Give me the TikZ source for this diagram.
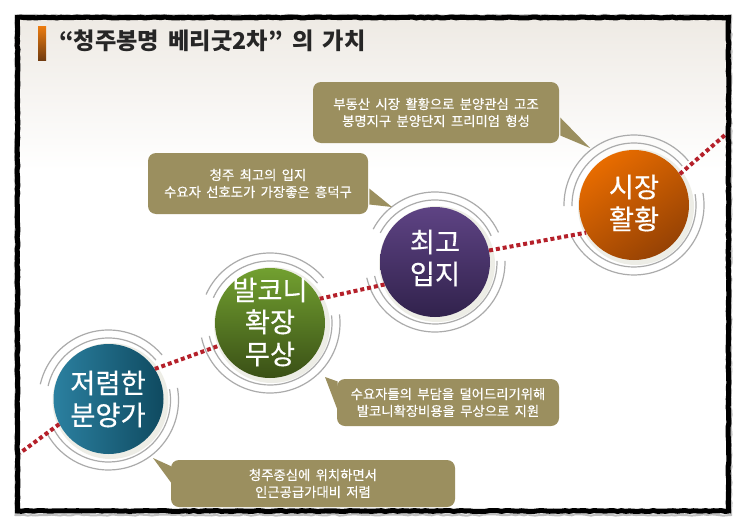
\documentclass[tikz,border=0pt]{standalone}
\usepackage{fontspec}
\setmainfont{Noto Sans CJK KR}
\newfontfamily\krmed[FakeBold=0.35]{Noto Sans CJK KR}
\newcommand{\titlesp}{\spaceskip 7pt\relax}
\newcommand{\bubblesp}{\spaceskip 4pt\relax}
\usetikzlibrary{calc,decorations.pathmorphing}
\definecolor{bubblecol}{HTML}{9B8F5F}
\definecolor{dotred}{HTML}{B5202A}
\definecolor{ringgray}{HTML}{ABABAB}
\definecolor{haloc}{HTML}{EDEDE6}
\definecolor{bgtop}{HTML}{EEEAE4}
\definecolor{bluea}{HTML}{2B80A0}
\definecolor{blueb}{HTML}{0F4A60}
\definecolor{greena}{HTML}{72A030}
\definecolor{greenb}{HTML}{3A5016}
\definecolor{purplea}{HTML}{5E4384}
\definecolor{purpleb}{HTML}{31224C}
\definecolor{orangea}{HTML}{E86C00}
\definecolor{orangeb}{HTML}{964204}
\definecolor{bara}{HTML}{E87A10}
\definecolor{barb}{HTML}{6E3A10}
\tikzset{
  disc/.style={circle,draw=none,minimum size=82.5pt,inner sep=0pt},
  disctext/.style={text=white,align=center,font=\krmed\fontsize{20.5pt}{24pt}\selectfont,inner sep=0pt},
  bubble/.style={fill=bubblecol,rounded corners=6pt,text=white,align=center,inner sep=0pt,
     font=\krmed\fontsize{10pt}{12.75pt}\selectfont},
  tailshape/.style={fill=bubblecol},
  ringline/.style={draw=ringgray,line width=0.9pt},
  dotline/.style={draw=dotred,line width=3pt,dash pattern=on 3pt off 2.2pt},
  halo/.style={fill=haloc}
}
% #1 centre, #2 top arc from, #3 top arc to, #4 lower arc from, #5 lower arc to (screen angles)
\newcommand{\ringset}[5]{%
  \foreach \rr in {62,70}{%
    \draw[ringline] ($(#1)+(-#2:\rr)$) arc[start angle=-#2,end angle=-#3,radius=\rr];
    \draw[ringline] ($(#1)+(-#4:\rr)$) arc[start angle=-#4,end angle=-#5,radius=\rr];
  }%
}
\begin{document}
\begin{tikzpicture}[x=0.75pt,y=-0.75pt]
\useasboundingbox (0,0) rectangle (745,528);
\fill[white] (0,0) rectangle (745,528);
% slide background
\shade[top color=bgtop,bottom color=white] (18,18) rectangle (727,170);
% title
\shade[top color=bara,bottom color=barb] (38,27) rectangle (46,61);
\node[anchor=west,inner sep=0pt,font=\bfseries\fontsize{17.4pt}{20pt}\selectfont,text=black!85] (title) at (59,41) {\titlesp “청주봉명 베리굿2차” 의 가치};
% halos
\fill[halo] (110.5,401) circle[radius=58];
\fill[halo] (272,325) circle[radius=58];
\fill[halo] (437,264) circle[radius=58];
\fill[halo] (636,207) circle[radius=58];
% discs
\node[disc,left color=bluea,right color=blueb] (blue) at (108.5,399) {};
\node[disc,top color=greena,bottom color=greenb] (green) at (270,323) {};
\node[disc,top color=purplea,bottom color=purpleb] (purple) at (435,262) {};
\node[disc,top color=orangea,bottom color=orangeb,shading angle=35] (orange) at (634,205) {};
% rings
\coordinate (cb) at (108.5,400);
\coordinate (cg) at (270,323);
\coordinate (cp) at (435,262);
\coordinate (co) at (634,205);
\ringset{cb}{167}{40}{10}{-151}
\ringset{cg}{156}{40}{7}{-168}
\ringset{cp}{152}{25}{1}{-167}
\ringset{co}{181}{39}{10}{-153}
% connectors
\coordinate (leftend) at (20,453);
\coordinate (rightend) at (725,135);
\draw[dotline] (blue.207) -- (leftend);
\draw[dotline] (blue.33) -- (green.204);
\draw[dotline] (green.26) -- (purple.204);
\draw[dotline] (purple.12) -- (orange.210);
\draw[dotline] (orange.34) -- (rightend);
% frame
\draw[black!25,line width=1.5pt,decorate,decoration={random steps,segment length=3pt,amplitude=0.5pt}] (15.5,15.5) rectangle (731,515);
\draw[black,line width=3.8pt,decorate,decoration={random steps,segment length=3pt,amplitude=0.35pt}] (17.5,17.5) rectangle (728.5,511);
% disc texts
\node[disctext] (bluet) at (108,399) {저렴한\\분양가};
\node[disctext] (greent) at (270,322) {발코니\\확장\\무상};
\node[disctext] (purplet) at (435,258) {최고\\입지};
\node[disctext] (oranget) at (634,203) {시장\\활황};
% bubbles
\coordinate (tip1) at (590,148);
\coordinate (tip2) at (392,207);
\coordinate (tip3) at (325,377);
\coordinate (tip4) at (153,458);
\node[bubble,minimum width=184.5pt,minimum height=45.75pt] (b1) at (436,112.5) {\bubblesp 부동산 시장 활황으로 분양관심 고조\\\bubblesp 봉명지구 분양단지 프리미엄 형성};
\node[bubble,minimum width=165pt,minimum height=45.75pt] (b2) at (258,183.5) {\bubblesp 청주 최고의 입지\\\bubblesp 수요자 선호도가 가장좋은 흥덕구};
\node[bubble,minimum width=166.5pt,minimum height=35.25pt] (b3) at (448,402.5) {\bubblesp 수요자들의 부담을 덜어드리기위해\\\bubblesp 발코니확장비용을 무상으로 지원};
\node[bubble,minimum width=213pt,minimum height=35.25pt] (b4) at (313,483.5) {\bubblesp 청주중심에 위치하면서\\\bubblesp 인근공급가대비 저렴};
\fill[tailshape] ($(b1.east)+(1,5)$) -- (tip1) -- ($(b1.east)+(1,23)$) -- cycle;
\fill[tailshape] ($(b2.east)+(1,5)$) -- (tip2) -- ($(b2.east)+(1,21)$) -- cycle;
\fill[tailshape] ($(b3.west)+(1,-21)$) -- (tip3) -- ($(b3.west)+(1,8)$) -- cycle;
\fill[tailshape] ($(b4.west)+(1,-17)$) -- (tip4) -- ($(b4.west)+(1,0)$) -- cycle;
\end{tikzpicture}
\end{document}
